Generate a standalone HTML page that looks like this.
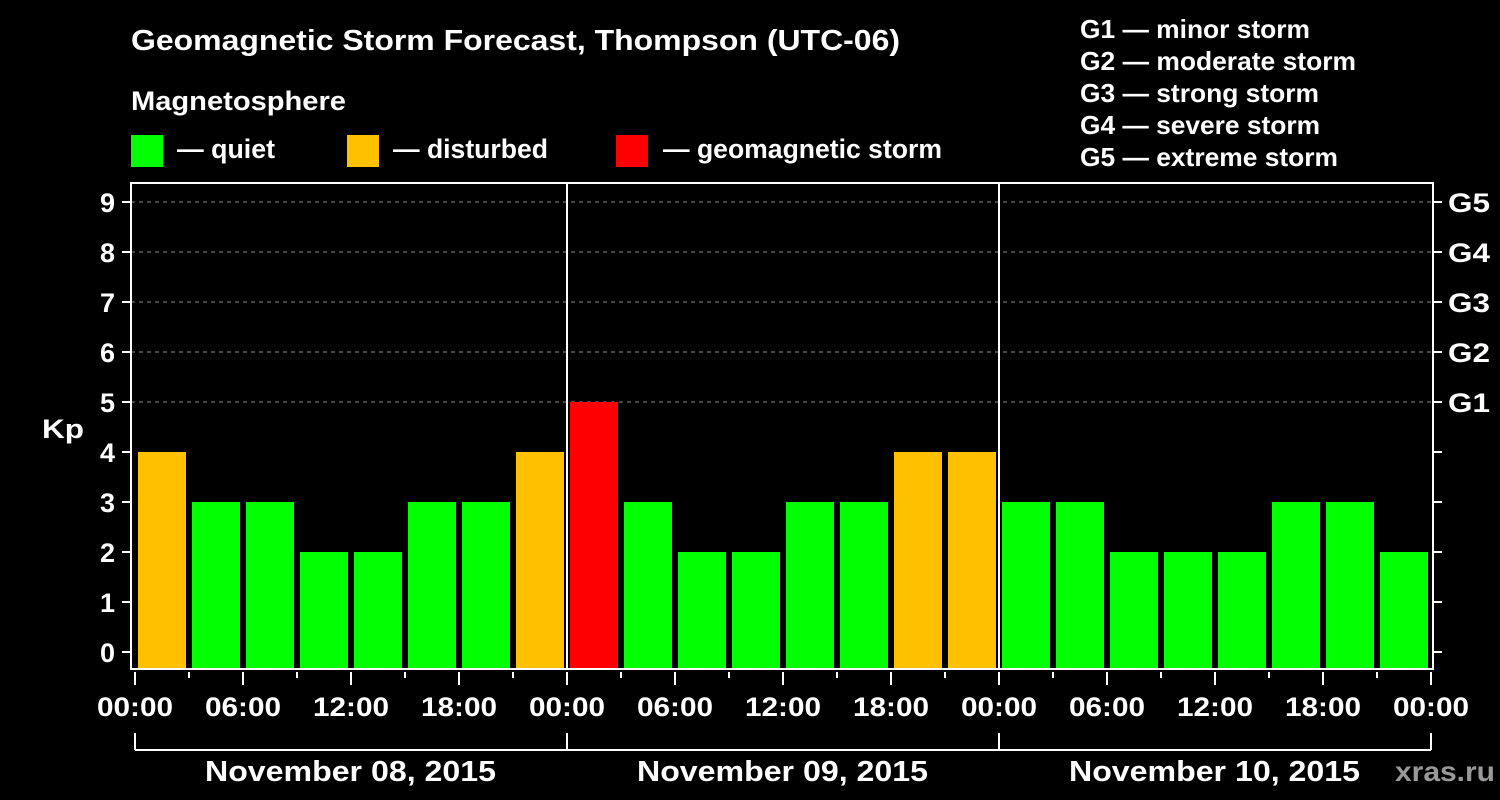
<!DOCTYPE html>
<html><head><meta charset="utf-8"><style>
html,body{margin:0;padding:0;background:#000;}
svg{display:block;font-family:"Liberation Sans",Arial,sans-serif;font-weight:bold;}
</style></head><body>
<svg id="chart" width="1500" height="800" viewBox="0 0 1500 800">
<rect width="1500" height="800" fill="#000"/>
<text x="131" y="50" fill="#fff" font-size="29" textLength="769" lengthAdjust="spacingAndGlyphs">Geomagnetic Storm Forecast, Thompson (UTC-06)</text>
<text x="131" y="110" fill="#fff" font-size="27" textLength="215" lengthAdjust="spacingAndGlyphs">Magnetosphere</text>
<g><rect x="131" y="135" width="32" height="32" fill="#00ff00"/><text x="177" y="158" fill="#fff" font-size="27" textLength="98" lengthAdjust="spacingAndGlyphs">— quiet</text></g>
<g><rect x="347" y="135" width="32" height="32" fill="#ffc000"/><text x="393" y="158" fill="#fff" font-size="27" textLength="155" lengthAdjust="spacingAndGlyphs">— disturbed</text></g>
<g><rect x="616" y="135" width="32" height="32" fill="#ff0000"/><text x="663" y="158" fill="#fff" font-size="27" textLength="279" lengthAdjust="spacingAndGlyphs">— geomagnetic storm</text></g>
<g fill="#fff" font-size="26">
<text x="1080" y="38" textLength="230" lengthAdjust="spacingAndGlyphs">G1 — minor storm</text>
<text x="1080" y="70" textLength="276" lengthAdjust="spacingAndGlyphs">G2 — moderate storm</text>
<text x="1080" y="102" textLength="239" lengthAdjust="spacingAndGlyphs">G3 — strong storm</text>
<text x="1080" y="134" textLength="240" lengthAdjust="spacingAndGlyphs">G4 — severe storm</text>
<text x="1080" y="166" textLength="258" lengthAdjust="spacingAndGlyphs">G5 — extreme storm</text>
</g>
<text x="1395" y="781" fill="#999" font-size="28" textLength="100" lengthAdjust="spacingAndGlyphs">xras.ru</text>
<g id="plot"></g>
</svg>
<script>
const kpValues=[4,3,3,2,2,3,3,4, 5,3,2,2,3,3,4,4, 3,3,2,2,2,3,3,2];
const kpTicks=[0,1,2,3,4,5,6,7,8,9];
const gLabels=["G1","G2","G3","G4","G5"];
const timeLabels=["00:00","06:00","12:00","18:00","00:00","06:00","12:00","18:00","00:00","06:00","12:00","18:00","00:00"];
const dayLabels=["November 08, 2015","November 09, 2015","November 10, 2015"];

const NS="http://www.w3.org/2000/svg";
const g=document.getElementById('plot');
const X0=135, HSTEP=54/3;
const L=131,R=1433,T=183,B=669;
const xH=h=>X0+h*HSTEP;
const yK=k=>652-k*50;
function mk(tag,attrs,parent){const e=document.createElementNS(NS,tag);for(const k in attrs)e.setAttribute(k,attrs[k]);(parent||g).appendChild(e);return e;}
for(let k=5;k<=9;k++){
  const l=mk('line',{x1:L,x2:R,y1:yK(k),y2:yK(k),stroke:'#888','stroke-dasharray':'4,4','stroke-width':1});
  
  
}
kpValues.forEach((v,i)=>{
  const c=v>=5?'#ff0000':(v>=4?'#ffc000':'#00ff00');
  const r=mk('rect',{x:xH(i*3)+3,y:yK(v),width:48,height:B-yK(v),fill:c});
  
  
});
for(let d=1;d<3;d++){
  const l=mk('line',{x1:xH(d*24),x2:xH(d*24),y1:T,y2:B,stroke:'#fff','stroke-width':2});
  
  
}
const f=mk('rect',{x:L,y:T,width:R-L,height:B-T,fill:'none',stroke:'#fff','stroke-width':2});


kpTicks.forEach(k=>{
  mk('line',{x1:L-9,x2:L,y1:yK(k),y2:yK(k),stroke:'#fff','stroke-width':2});
  mk('line',{x1:R,x2:R+9,y1:yK(k),y2:yK(k),stroke:'#fff','stroke-width':2});
  const t=mk('text',{x:115,y:yK(k)+10,fill:'#fff','font-size':27,'text-anchor':'end'});
  t.textContent=k;
  
  
});
gLabels.forEach((s,i)=>{
  const t=mk('text',{x:1448,y:yK(5+i)+10,fill:'#fff','font-size':27,textLength:42,lengthAdjust:'spacingAndGlyphs'});
  t.textContent=s;
  
  
});
const yt=mk('text',{x:42,y:438,fill:'#fff','font-size':27,textLength:42,lengthAdjust:'spacingAndGlyphs'});
yt.textContent='Kp';


for(let h=0;h<=72;h+=3){
  const major=h%6===0;
  mk('line',{x1:xH(h),x2:xH(h),y1:B+3,y2:major?B+16:B+9,stroke:'#fff','stroke-width':2});
}
timeLabels.forEach((s,i)=>{
  const t=mk('text',{x:xH(i*6)-38,y:716,fill:'#fff','font-size':27,textLength:76,lengthAdjust:'spacingAndGlyphs'});
  t.textContent=s;
  
  
});
mk('line',{x1:xH(0),x2:xH(72),y1:750,y2:750,stroke:'#fff','stroke-width':2});
for(let d=0;d<=3;d++) mk('line',{x1:xH(d*24),x2:xH(d*24),y1:733,y2:750,stroke:'#fff','stroke-width':2});
dayLabels.forEach((s,i)=>{
  const t=mk('text',{x:xH(i*24+12)-146,y:781,fill:'#fff','font-size':29,textLength:291,lengthAdjust:'spacingAndGlyphs'});
  t.textContent=s;
  
  
});
</script>
</body></html>
